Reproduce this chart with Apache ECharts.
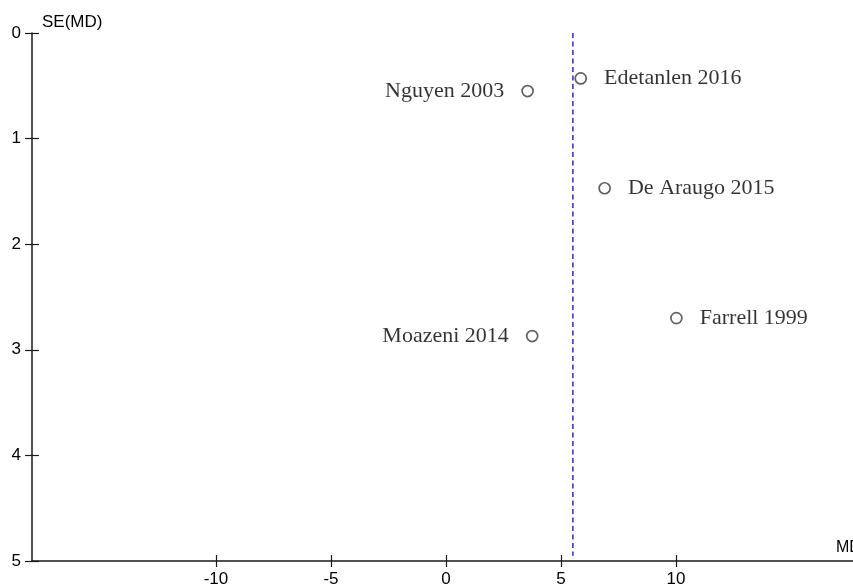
<!DOCTYPE html>
<html>
<head>
<meta charset="utf-8">
<script src="https://cdn.jsdelivr.net/npm/echarts@6/dist/echarts.min.js"></script>
<style>html,body{margin:0;padding:0;background:#fff;}#c{width:853px;height:586px;}</style>
</head>
<body>
<div id="c"></div>
<script>
const studies = ['Nguyen 2003', 'Edetanlen 2016', 'De Araugo 2015', 'Farrell 1999', 'Moazeni 2014'];
const md = [3.55, 5.86, 6.90, 10.02, 3.75];
const se = [0.55, 0.43, 1.47, 2.70, 2.87];
const pooledMD = 5.52;
const pooledSE = [0, 4.95];
const xTicks = [-10, -5, 0, 5, 10];
const yTicks = [0, 1, 2, 3, 4, 5];
const xRange = [-18, 17.7];
const yRange = [0, 5];

const chart = echarts.init(document.getElementById('c'));
const sans = 'Liberation Sans, Arial, sans-serif';
const serif = 'Liberation Serif, Times New Roman, serif';
const axisCol = '#1a1a1a';
const gridBox = { left: 32, top: 33, right: 0, bottom: 25, containLabel: false, outerBoundsMode: 'none' };

const points = studies.map((n, i) => ({
  name: n,
  value: [md[i], se[i]],
  label: { position: md[i] < pooledMD ? 'left' : 'right' }
}));

chart.setOption({
  animation: false,
  backgroundColor: '#fff',
  grid: [Object.assign({}, gridBox), Object.assign({}, gridBox)],
  xAxis: [{
    type: 'value', gridIndex: 0, min: xRange[0], max: xRange[1], position: 'bottom',
    name: 'MD', nameLocation: 'end', nameGap: -17,
    nameTextStyle: { fontFamily: sans, fontSize: 16, color: '#000', align: 'left', verticalAlign: 'bottom', padding: [0, 0, 5, 0] },
    axisLine: { onZero: false, lineStyle: { color: axisCol, width: 1.5 } },
    axisTick: { show: true, inside: false, length: 6, customValues: xTicks, lineStyle: { color: axisCol, width: 1.2 } },
    axisLabel: { customValues: xTicks, margin: 10, fontFamily: sans, fontSize: 17, color: '#000' },
    splitLine: { show: false }
  }, {
    type: 'value', gridIndex: 1, min: xRange[0], max: xRange[1], position: 'bottom',
    axisLine: { show: false, onZero: false },
    axisTick: { show: true, inside: true, length: 6, customValues: xTicks, lineStyle: { color: axisCol, width: 1.2 } },
    axisLabel: { show: false },
    splitLine: { show: false }
  }],
  yAxis: [{
    type: 'value', gridIndex: 0, min: yRange[0], max: yRange[1], inverse: true, position: 'left',
    name: 'SE(MD)', nameLocation: 'start', nameGap: 2,
    nameTextStyle: { fontFamily: sans, fontSize: 17, color: '#000', align: 'left', padding: [0, 0, 0, 10] },
    axisLine: { onZero: false, lineStyle: { color: axisCol, width: 1.5 } },
    axisTick: { show: true, inside: false, length: 7, customValues: yTicks, lineStyle: { color: axisCol, width: 1.2 } },
    axisLabel: { customValues: yTicks, margin: 11, fontFamily: sans, fontSize: 17, color: '#000' },
    splitLine: { show: false }
  }, {
    type: 'value', gridIndex: 1, min: yRange[0], max: yRange[1], inverse: true, position: 'left',
    axisLine: { show: false, onZero: false },
    axisTick: { show: true, inside: true, length: 7, customValues: yTicks, lineStyle: { color: axisCol, width: 1.2 } },
    axisLabel: { show: false },
    splitLine: { show: false }
  }],
  series: [{
    type: 'line', xAxisIndex: 0, yAxisIndex: 0,
    data: pooledSE.map(s => [pooledMD, s]),
    showSymbol: false, symbol: 'none',
    lineStyle: { color: '#2a2ac4', width: 1.5, type: [5, 3.5] },
    silent: true, z: 1
  }, {
    type: 'scatter', xAxisIndex: 0, yAxisIndex: 0,
    data: points,
    symbol: 'circle', symbolSize: 11,
    itemStyle: { color: 'rgba(255,255,255,0)', borderColor: '#3a3a3a', borderWidth: 1.7 },
    label: { show: true, formatter: '{b}', distance: 17, fontFamily: serif, fontSize: 22, color: '#000' },
    z: 3
  }]
});
</script>
</body>
</html>
